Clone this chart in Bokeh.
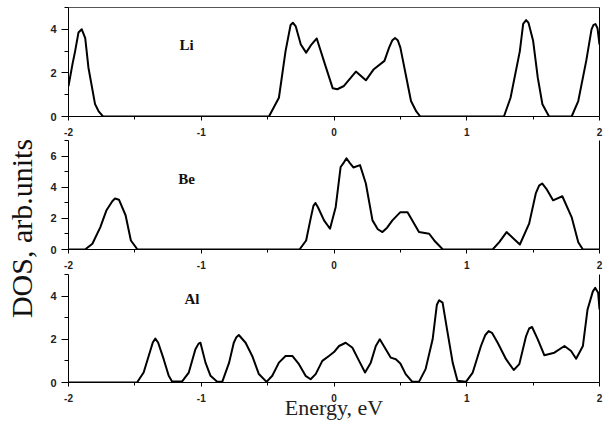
import math
from bokeh.plotting import figure
from bokeh.layouts import row, column
from bokeh.models import Range1d, LinearAxis, FixedTicker, Label
from bokeh.core.properties import value
from bokeh.embed import file_html
from bokeh.resources import INLINE

# ---------------- data ----------------
x_ticks = [-2, -1, 0, 1, 2]
x_tick_labels = ["-2", "-1", "0", "1", "2"]
x_minor = [-1.5, -0.5, 0.5, 1.5]

li_E = [-2.0, -1.97, -1.95, -1.925, -1.90, -1.874, -1.85, -1.80, -1.774, -1.74,
        -0.49, -0.415, -0.365, -0.327, -0.31, -0.289, -0.25, -0.21, -0.17, -0.13, -0.06,
        -0.01, 0.025, 0.075, 0.165, 0.24, 0.30, 0.38, 0.415, 0.44, 0.46, 0.48, 0.50,
        0.54, 0.58, 0.62, 0.65,
        1.28, 1.33, 1.40, 1.425, 1.447, 1.465, 1.50, 1.535, 1.57, 1.62,
        1.79, 1.84, 1.90, 1.94, 1.955, 1.97, 1.985, 2.0]
li_dos = [1.4, 2.4, 3.0, 3.85, 4.0, 3.6, 2.25, 0.57, 0.25, 0.0,
          0.0, 0.86, 3.0, 4.2, 4.3, 4.15, 3.3, 2.93, 3.3, 3.58, 2.24,
          1.3, 1.25, 1.4, 2.06, 1.66, 2.17, 2.55, 3.16, 3.5, 3.6, 3.5, 3.16,
          1.94, 0.71, 0.23, 0.0,
          0.0, 0.86, 3.0, 4.25, 4.42, 4.3, 3.47, 1.78, 0.56, 0.0,
          0.0, 0.71, 2.55, 4.0, 4.2, 4.24, 4.05, 3.3]

be_E = [-2.0, -1.875, -1.82, -1.76, -1.715, -1.67, -1.65, -1.62, -1.57, -1.53, -1.48,
        -0.26, -0.21, -0.176, -0.155, -0.14, -0.12, -0.075, -0.03, 0.013, 0.05, 0.075,
        0.094, 0.12, 0.146, 0.196, 0.24, 0.29, 0.33, 0.365, 0.40, 0.44, 0.50, 0.554,
        0.59, 0.64, 0.717, 0.755, 0.82,
        1.195, 1.245, 1.30, 1.40, 1.47, 1.52, 1.545, 1.568, 1.60, 1.65, 1.72, 1.79,
        1.84, 1.875, 2.0]
be_dos = [0.0, 0.0, 0.37, 1.44, 2.5, 3.1, 3.27, 3.2, 2.2, 0.58, 0.0,
          0.0, 0.58, 1.98, 2.8, 2.99, 2.7, 1.87, 1.33, 2.73, 5.3, 5.6,
          5.85, 5.55, 5.27, 5.42, 4.24, 1.87, 1.3, 1.12, 1.4, 1.87, 2.4, 2.4,
          1.87, 1.12, 1.01, 0.58, 0.0,
          0.0, 0.47, 1.12, 0.32, 1.66, 3.6, 4.1, 4.24, 3.9, 3.16, 3.42, 2.08,
          0.47, 0.0, 0.0]

al_E = [-2.0, -1.484, -1.434, -1.396, -1.365, -1.346, -1.325, -1.283, -1.245, -1.22,
        -1.144, -1.094, -1.044, -1.02, -1.006, -0.968, -0.93, -0.88, -0.842, -0.79,
        -0.755, -0.735, -0.717, -0.666, -0.616, -0.566, -0.508, -0.465, -0.415, -0.365,
        -0.314, -0.264, -0.214, -0.176, -0.138, -0.088, -0.038, 0.0, 0.038, 0.088,
        0.139, 0.189, 0.234, 0.277, 0.315, 0.345, 0.39, 0.428, 0.466, 0.50,
        0.54, 0.59, 0.64, 0.69, 0.743, 0.775, 0.792, 0.818, 0.856, 0.894,
        0.93, 0.994, 1.045, 1.107, 1.14, 1.165, 1.19, 1.233, 1.296, 1.354,
        1.396, 1.447, 1.47, 1.492, 1.535, 1.585, 1.66, 1.736, 1.786, 1.824,
        1.875, 1.91, 1.95, 1.968, 1.99, 2.0]
al_dos = [0.0, 0.0, 0.46, 1.23, 1.85, 2.03, 1.85, 1.08, 0.31, 0.05,
          0.05, 0.46, 1.54, 1.8, 1.84, 0.92, 0.31, 0.03, 0.03, 0.92,
          1.84, 2.1, 2.2, 1.84, 1.23, 0.39, 0.03, 0.31, 0.92, 1.23,
          1.23, 0.85, 0.31, 0.15, 0.39, 1.0, 1.23, 1.41, 1.69, 1.84,
          1.61, 1.0, 0.46, 0.92, 1.69, 2.0, 1.54, 1.15, 1.08, 0.88,
          0.39, 0.03, 0.03, 0.62, 2.0, 3.6, 3.81, 3.7, 2.3, 0.92,
          0.08, 0.03, 0.46, 1.69, 2.2, 2.38, 2.3, 1.84, 1.08, 0.58,
          0.85, 2.15, 2.5, 2.57, 2.0, 1.26, 1.38, 1.69, 1.46, 1.1,
          1.69, 3.38, 4.22, 4.38, 4.15, 3.38]

panel_names = ["Li", "Be", "Al"]
y_max = [5, 7, 5]
y_major = [[0, 2, 4], [0, 2, 4, 6], [0, 2, 4]]
y_minor = [[1, 3, 5], [1, 3, 5, 7], [1, 3, 5]]
name_pos = [(-1.11, 3.3), (-1.11, 4.55), (-1.07, 3.86)]

x_title = "Energy, eV"
y_title = "DOS, arb.units"

# ---------------- layout ----------------
LEFT_W = 40
PANEL_W = 603 - LEFT_W
borders = [(7, 109, 24), (0, 109, 25), (0, 108, 50)]


def make_panel(i, E, D):
    top, fh, bottom = borders[i]
    p = figure(width=PANEL_W, height=top + fh + bottom,
               x_range=Range1d(-2, 2), y_range=Range1d(0, y_max[i]),
               output_backend="svg", toolbar_location=None,
               min_border_left=28, min_border_right=4,
               min_border_top=top, min_border_bottom=bottom)
    p.grid.visible = False
    p.outline_line_color = None
    p.background_fill_color = "white"
    p.border_fill_color = "white"

    p.line(E, D, line_color="black", line_width=2, line_join="round")

    xa = p.xaxis[0]
    xa.ticker = FixedTicker(ticks=x_ticks, minor_ticks=x_minor)
    xa.major_label_overrides = {t: l for t, l in zip(x_ticks, x_tick_labels)}
    xa.major_tick_in = 0
    xa.major_tick_out = 4
    xa.minor_tick_in = 0
    xa.minor_tick_out = 3
    xa.major_label_standoff = 7
    xa.major_label_text_font = "Liberation Sans"
    xa.major_label_text_font_style = "bold"
    xa.major_label_text_font_size = "10px"
    xa.major_label_text_color = "#222222"
    xa.axis_line_color = "black"

    ya = p.yaxis[0]
    ya.ticker = FixedTicker(ticks=y_major[i], minor_ticks=y_minor[i])
    ya.major_tick_in = 0
    ya.major_tick_out = 7
    ya.minor_tick_in = 0
    ya.minor_tick_out = 4
    ya.major_label_standoff = 5
    ya.major_label_text_font = "Liberation Sans"
    ya.major_label_text_font_style = "bold"
    ya.major_label_text_font_size = "11px"
    ya.major_label_text_color = "#222222"
    ya.axis_line_color = "black"

    right = LinearAxis(ticker=FixedTicker(ticks=[]), major_tick_out=0, minor_tick_out=0,
                       major_label_text_font_size="0px", axis_line_color="black")
    p.add_layout(right, "right")
    if i == 0:
        above = LinearAxis(ticker=FixedTicker(ticks=[]), major_tick_out=0, minor_tick_out=0,
                           major_label_text_font_size="0px", axis_line_color="#555555")
        p.add_layout(above, "above")

    if i == 2:
        xa.axis_label = x_title
        xa.axis_label_text_font = "Liberation Serif"
        xa.axis_label_text_font_style = "normal"
        xa.axis_label_text_font_size = "22px"
        xa.axis_label_standoff = -10
        xa.axis_label_text_color = "#222222"

    nx, ny = name_pos[i]
    p.add_layout(Label(x=nx, y=ny, text=panel_names[i], text_font="Liberation Serif",
                       text_font_style="bold", text_font_size="15px",
                       text_align="center", text_baseline="middle", text_color="#111111"))
    return p


p1 = make_panel(0, li_E, li_dos)
p2 = make_panel(1, be_E, be_dos)
p3 = make_panel(2, al_E, al_dos)

lab = figure(width=LEFT_W, height=432, x_range=Range1d(0, LEFT_W), y_range=Range1d(0, 432),
             x_axis_type=None, y_axis_type=None, output_backend="svg",
             toolbar_location=None, min_border=0)
lab.outline_line_color = None
lab.grid.visible = False
lab.text(x=[21], y=[432 - 228], text=[y_title], angle=math.pi / 2,
         text_font=value("Liberation Serif"), text_font_size="30px",
         text_align="center", text_baseline="middle", text_color="#111111")

layout = row(lab, column(p1, p2, p3))

open("out.html", "w").write(file_html(layout, INLINE))
